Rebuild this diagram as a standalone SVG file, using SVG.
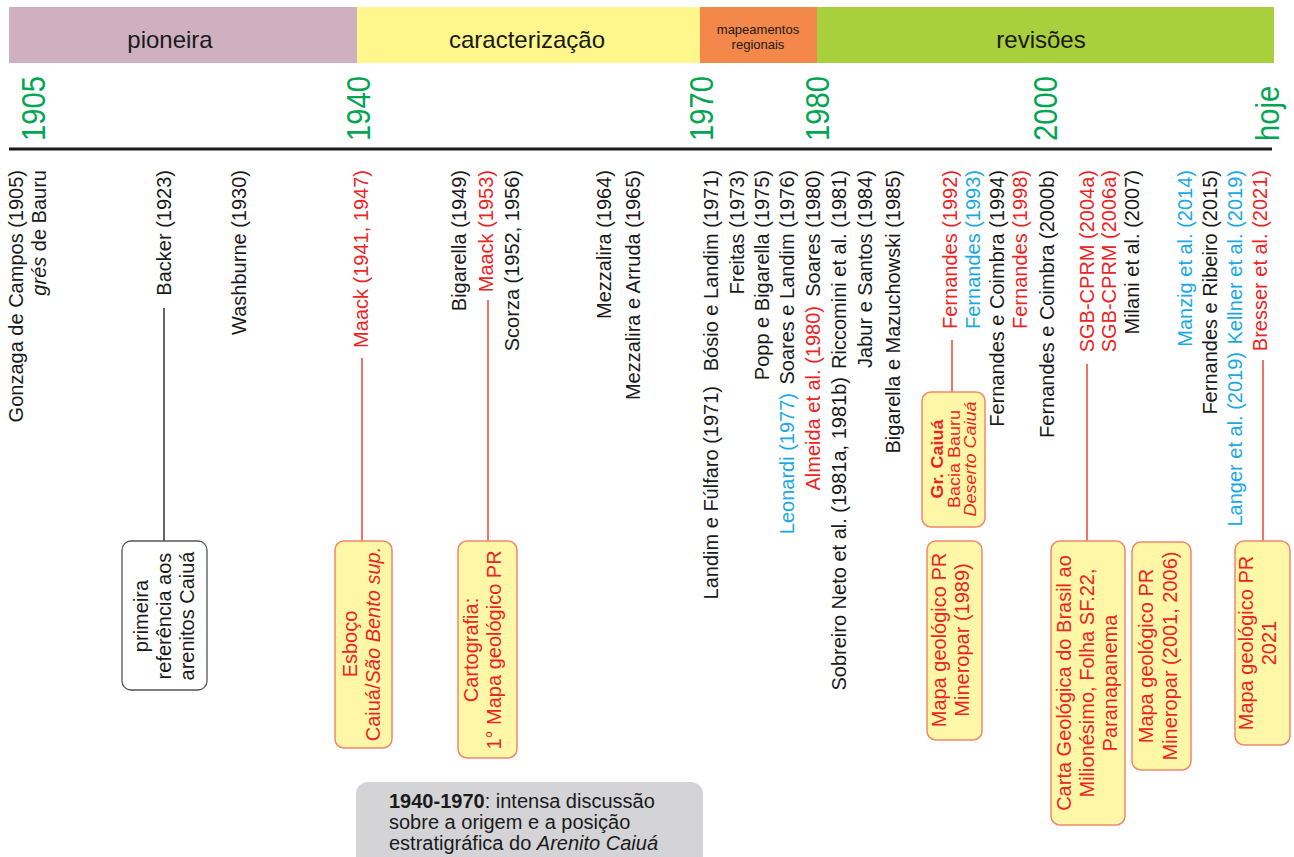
<svg xmlns="http://www.w3.org/2000/svg" width="1294" height="857" viewBox="0 0 1294 857">
<style>
text{font-family:"Liberation Sans",Arial,Helvetica,sans-serif;font-size:20px;fill:#1a1a1a}
.r{fill:#ee2424}
.bl{fill:#19a9e5}
.yr{font-size:34px;fill:#00a651}
.hd{font-size:24px;text-anchor:middle}
.end{text-anchor:end}
.mid{text-anchor:middle}
.ybox{fill:#fff7a8;stroke:#f2886a;stroke-width:1.5}
.wbox{fill:#ffffff;stroke:#555555;stroke-width:1.3}
.rl{stroke:#ee5040;stroke-width:1.6;fill:none}
.kl{stroke:#333333;stroke-width:1.5;fill:none}
.sm{font-size:18px}
</style>
<rect width="1294" height="857" fill="#ffffff"/>

<g id="header">
<rect x="9" y="7" width="348" height="56" fill="#cfb0c0"/>
<rect x="357" y="7" width="343" height="56" fill="#fff68c"/>
<rect x="700" y="7" width="117" height="56" fill="#f4874a"/>
<rect x="817" y="7" width="457" height="56" fill="#a8cf3c"/>
<text class="hd" x="170" y="48">pioneira</text>
<text class="hd" x="527" y="48">caracterização</text>
<text x="758" y="34" text-anchor="middle" style="font-size:13px">mapeamentos</text>
<text x="758" y="49" text-anchor="middle" style="font-size:13px">regionais</text>
<text class="hd" x="1041" y="48">revisões</text>
</g>

<g id="years">
<text class="yr" transform="translate(45,141) rotate(-90) scale(0.86,1)">1905</text>
<text class="yr" transform="translate(370,141) rotate(-90) scale(0.86,1)">1940</text>
<text class="yr" transform="translate(713,141) rotate(-90) scale(0.86,1)">1970</text>
<text class="yr" transform="translate(829,141) rotate(-90) scale(0.86,1)">1980</text>
<text class="yr" transform="translate(1057,141) rotate(-90) scale(0.86,1)">2000</text>
<text class="yr" transform="translate(1279,141) rotate(-90) scale(0.86,1)">hoje</text>
</g>

<g id="timeline">
<line x1="9" y1="149" x2="1272" y2="149" stroke="#1a1a1a" stroke-width="3"/>
</g>

<g id="connectors">
<line class="kl" x1="164" y1="308" x2="164" y2="541"/>
<line class="rl" x1="362" y1="358" x2="362" y2="541"/>
<line class="rl" x1="488" y1="300" x2="488" y2="541"/>
<line class="rl" x1="952" y1="340" x2="952" y2="392"/>
<line class="rl" x1="1087" y1="364" x2="1087" y2="541"/>
<line class="rl" x1="1263" y1="360" x2="1263" y2="541"/>
</g>

<g id="pioneira-refs">
<text class="end" transform="translate(23,170) rotate(-90)">Gonzaga de Campos (1905)</text>
<text class="end" transform="translate(46,170) rotate(-90)"><tspan font-style="italic">grés</tspan> de Bauru</text>
<text class="end" transform="translate(171,170) rotate(-90)">Backer (1923)</text>
<text class="end" transform="translate(246,170) rotate(-90)">Washburne (1930)</text>
</g>

<g id="box-primeira">
<rect class="wbox" x="122" y="541" width="85" height="149" rx="9"/>
<text class="mid" transform="translate(148,616) rotate(-90)">primeira</text>
<text class="mid" transform="translate(171,616) rotate(-90)">referência aos</text>
<text class="mid" transform="translate(194,616) rotate(-90)">arenitos Caiuá</text>
</g>

<g id="caracterizacao-refs">
<text class="end r" transform="translate(368,170) rotate(-90)">Maack (1941, 1947)</text>
<text class="end" transform="translate(466,170) rotate(-90)">Bigarella (1949)</text>
<text class="end r" transform="translate(493,170) rotate(-90)">Maack (1953)</text>
<text class="end" transform="translate(519,170) rotate(-90)">Scorza (1952, 1956)</text>
<text class="end" transform="translate(611,170) rotate(-90)">Mezzalira (1964)</text>
<text class="end" transform="translate(640,170) rotate(-90)">Mezzalira e Arruda (1965)</text>
</g>

<g id="box-esboco">
<rect class="ybox" x="335" y="541" width="57" height="207" rx="9"/>
<text class="mid r" transform="translate(357,644) rotate(-90)">Esboço</text>
<text class="mid r" transform="translate(380,644) rotate(-90)">Caiuá/<tspan font-style="italic">São Bento sup.</tspan></text>
</g>

<g id="box-cartografia">
<rect class="ybox" x="458" y="541" width="59" height="217" rx="9"/>
<text class="mid r" transform="translate(478,650) rotate(-90)">Cartografia:</text>
<text class="mid r" transform="translate(501,650) rotate(-90)">1° Mapa geológico PR</text>
</g>

<g id="mapeamentos-refs">
<text class="end" transform="translate(718,170) rotate(-90)">Bósio e Landim (1971)</text>
<text class="end" transform="translate(718,386) rotate(-90)">Landim e Fúlfaro (1971)</text>
<text class="end" transform="translate(744,170) rotate(-90)">Freitas (1973)</text>
<text class="end" transform="translate(769,170) rotate(-90)">Popp e Bigarella (1975)</text>
<text class="end" transform="translate(794,170) rotate(-90)">Soares e Landim (1976)</text>
<text class="end bl" transform="translate(794,393) rotate(-90)">Leonardi (1977)</text>
<text class="end" transform="translate(820,170) rotate(-90)">Soares (1980)</text>
<text class="end r" transform="translate(820,306) rotate(-90)">Almeida et al. (1980)</text>
<text class="end" transform="translate(846,170) rotate(-90)">Riccomini et al. (1981)</text>
<text class="end" transform="translate(846,377) rotate(-90)">Sobreiro Neto et al. (1981a, 1981b)</text>
<text class="end" transform="translate(872,170) rotate(-90)">Jabur e Santos (1984)</text>
<text class="end" transform="translate(900,170) rotate(-90)">Bigarella e Mazuchowski (1985)</text>
</g>

<g id="revisoes-1990">
<text class="end r" transform="translate(957,170) rotate(-90)">Fernandes (1992)</text>
<text class="end bl" transform="translate(980,170) rotate(-90)">Fernandes (1993)</text>
<text class="end" transform="translate(1004,170) rotate(-90)">Fernandes e Coimbra (1994)</text>
<text class="end r" transform="translate(1027,170) rotate(-90)">Fernandes (1998)</text>
<text class="end" transform="translate(1054,170) rotate(-90)">Fernandes e Coimbra (2000b)</text>
</g>

<g id="box-grcaiua">
<rect class="ybox" x="922" y="392" width="63" height="135" rx="9"/>
<text class="mid r sm" transform="translate(943,459) rotate(-90) scale(1,0.9)" font-weight="bold">Gr. Caiuá</text>
<text class="mid r sm" transform="translate(959.5,459) rotate(-90) scale(1,0.9)">Bacia Bauru</text>
<text class="mid r sm" transform="translate(976,459) rotate(-90) scale(1,0.9)" font-style="italic">Deserto Caiuá</text>
</g>

<g id="box-mineropar1989">
<rect class="ybox" x="927" y="541" width="55" height="199" rx="9"/>
<text class="mid r" transform="translate(946,640) rotate(-90)">Mapa geológico PR</text>
<text class="mid r" transform="translate(969,640) rotate(-90)">Mineropar (1989)</text>
</g>

<g id="revisoes-2000">
<text class="end r" transform="translate(1094,170) rotate(-90)">SGB-CPRM (2004a)</text>
<text class="end r" transform="translate(1116,170) rotate(-90)">SGB-CPRM (2006a)</text>
<text class="end" transform="translate(1139,170) rotate(-90)">Milani et al. (2007)</text>
<text class="end bl" transform="translate(1192,170) rotate(-90)">Manzig et al. (2014)</text>
<text class="end" transform="translate(1217,170) rotate(-90)">Fernandes e Ribeiro (2015)</text>
<text class="end bl" transform="translate(1242,170) rotate(-90)">Kellner et al. (2019)</text>
<text class="end bl" transform="translate(1242,352) rotate(-90)">Langer et al. (2019)</text>
<text class="end r" transform="translate(1267,170) rotate(-90)">Bresser et al. (2021)</text>
</g>

<g id="box-carta">
<rect class="ybox" x="1051" y="541" width="74" height="284" rx="9"/>
<text class="mid r" transform="translate(1071,683) rotate(-90)">Carta Geológica do Brasil ao</text>
<text class="mid r" transform="translate(1094,683) rotate(-90)">Milionésimo, Folha SF.22,</text>
<text class="mid r" transform="translate(1117,683) rotate(-90)">Paranapanema</text>
</g>

<g id="box-mineropar2001">
<rect class="ybox" x="1132" y="542" width="59" height="228" rx="9"/>
<text class="mid r" transform="translate(1153,656) rotate(-90)">Mapa geológico PR</text>
<text class="mid r" transform="translate(1177,656) rotate(-90)">Mineropar (2001, 2006)</text>
</g>

<g id="box-mapa2021">
<rect class="ybox" x="1235" y="541" width="55" height="204" rx="9"/>
<text class="mid r" transform="translate(1253,643) rotate(-90)">Mapa geológico PR</text>
<text class="mid r" transform="translate(1276,643) rotate(-90)">2021</text>
</g>

<g id="note-1940-1970">
<rect x="356" y="782" width="347" height="100" rx="12" fill="#d4d4d6"/>
<text x="389" y="808"><tspan font-weight="bold">1940-1970</tspan>: intensa discussão</text>
<text x="389" y="829">sobre a origem e a posição</text>
<text x="389" y="850">estratigráfica do <tspan font-style="italic">Arenito Caiuá</tspan></text>
</g>
</svg>
